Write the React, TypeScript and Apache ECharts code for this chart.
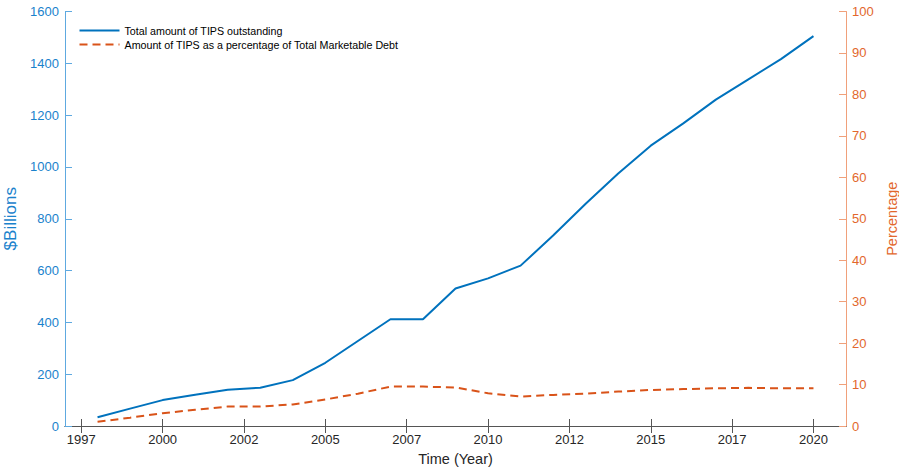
import React, { useEffect, useRef } from "react";
import * as echarts from "echarts";

const years = [1998, 1999, 2000, 2001, 2002, 2003, 2004, 2005, 2006, 2007, 2008, 2009, 2010, 2011, 2012, 2013, 2014, 2015, 2016, 2017, 2018, 2019, 2020];
const tipsOutstanding = [34, 67, 100, 121, 140, 148, 177, 244, 328, 412, 412, 531, 570, 619, 735, 858, 975, 1082, 1168, 1260, 1338, 1416, 1505];
const tipsPercentage = [1.0, 2.0, 3.1, 3.9, 4.7, 4.7, 5.2, 6.4, 7.8, 9.5, 9.5, 9.3, 7.9, 7.1, 7.5, 7.8, 8.3, 8.7, 8.9, 9.1, 9.2, 9.1, 9.1];
const xTickLabels = ["1997", "2000", "2002", "2005", "2007", "2010", "2012", "2015", "2017", "2020"];
const xTickValues = xTickLabels.map((_, i) => 1997.5 + 2.5 * i);

const BLUE = "#0072BD";
const ORANGE = "#D95319";
const BLUE_TXT = "#1a82cc";
const ORANGE_TXT = "#e2672c";
const FONT = "Liberation Sans, Arial, Helvetica, sans-serif";

export default function App() {
  const ref = useRef<HTMLDivElement>(null);
  useEffect(() => {
    if (!ref.current) return;
    const chart = echarts.init(ref.current, undefined, { renderer: "svg" });
    const tickFmt = (v: number) => {
      const i = Math.round((v - 1997.5) / 2.5);
      return xTickLabels[i] ?? "";
    };
    const plain = (v: number) => String(v);
    chart.setOption({
      animation: false,
      backgroundColor: "#ffffff",
      textStyle: { fontFamily: FONT },
      grid: { left: 65, right: 53, top: 11.5, bottom: 48, containLabel: false, outerBoundsMode: "none" },
      legend: {
        left: 73.5,
        top: 19.5,
        orient: "vertical",
        itemWidth: 40,
        itemHeight: 10,
        itemGap: 2,
        itemStyle: { opacity: 0 },
        textStyle: { fontSize: 10.7, color: "#000", fontFamily: FONT, lineHeight: 12 },
        data: [
          { name: "Total amount of TIPS outstanding" },
          { name: "Amount of TIPS as a percentage of Total Marketable Debt" },
        ],
      },
      xAxis: [
        {
          type: "value",
          min: 1997,
          max: 2021,
          position: "bottom",
          name: "Time (Year)",
          nameLocation: "middle",
          nameGap: 25,
          nameTextStyle: { fontSize: 14.5, color: "#262626", fontFamily: FONT },
          axisLine: { show: true, lineStyle: { color: "#555", width: 1 } },
          axisTick: { show: true, inside: true, length: 7, customValues: xTickValues, lineStyle: { color: "#555" } },
          axisLabel: { show: true, customValues: xTickValues, formatter: tickFmt, fontSize: 13, color: "#262626", margin: 7, fontFamily: FONT },
          splitLine: { show: false },
        },
        {
          type: "value",
          min: 1997,
          max: 2021,
          position: "top",
          axisLine: { show: true, lineStyle: { color: "#555", width: 1 } },
          axisTick: { show: true, inside: true, length: 7, customValues: xTickValues, lineStyle: { color: "#555" } },
          axisLabel: { show: false },
          splitLine: { show: false },
        },
      ],
      yAxis: [
        {
          type: "value",
          min: 0,
          max: 1600,
          interval: 200,
          position: "left",
          name: "$Billions",
          nameLocation: "middle",
          nameGap: 34,
          nameTextStyle: { fontSize: 17, color: BLUE_TXT, fontFamily: FONT },
          axisLine: { show: true, lineStyle: { color: "#5ea9e0", width: 1 } },
          axisTick: { show: true, inside: true, length: 7, lineStyle: { color: "#5ea9e0" } },
          axisLabel: { fontSize: 13, color: BLUE_TXT, margin: 6, fontFamily: FONT, formatter: plain },
          splitLine: { show: false },
        },
        {
          type: "value",
          min: 0,
          max: 100,
          interval: 10,
          position: "right",
          name: "Percentage",
          nameLocation: "middle",
          nameGap: 35,
          nameTextStyle: { fontSize: 14.5, color: ORANGE_TXT, fontFamily: FONT },
          axisLine: { show: true, lineStyle: { color: "#f0a07a", width: 1 } },
          axisTick: { show: true, inside: true, length: 7, lineStyle: { color: "#f0a07a" } },
          axisLabel: { fontSize: 13, color: ORANGE_TXT, margin: 6, fontFamily: FONT, formatter: plain },
          splitLine: { show: false },
        },
      ],
      series: [
        {
          name: "Total amount of TIPS outstanding",
          type: "line",
          xAxisIndex: 0,
          yAxisIndex: 0,
          data: years.map((y, i) => [y, tipsOutstanding[i]]),
          symbol: "none",
          lineStyle: { color: BLUE, width: 2 },
          itemStyle: { color: BLUE },
        },
        {
          name: "Amount of TIPS as a percentage of Total Marketable Debt",
          type: "line",
          xAxisIndex: 0,
          yAxisIndex: 1,
          data: years.map((y, i) => [y, tipsPercentage[i]]),
          symbol: "none",
          lineStyle: { color: ORANGE, width: 2, type: [8, 5] },
          itemStyle: { color: ORANGE },
        },
      ],
    });
    return () => chart.dispose();
  }, []);
  return <div ref={ref} style={{ position: "absolute", left: 0, top: 0, width: 899, height: 474 }} />;
}
